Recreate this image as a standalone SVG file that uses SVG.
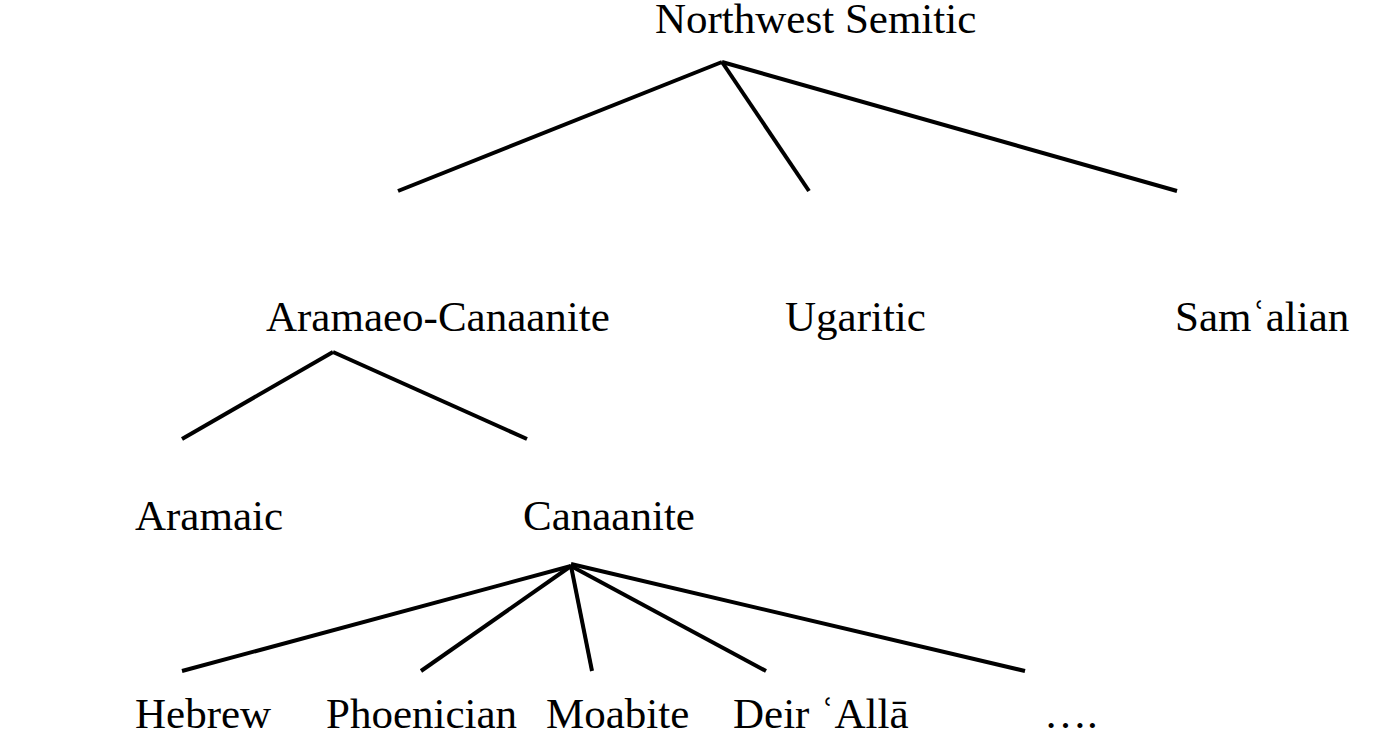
<svg xmlns="http://www.w3.org/2000/svg" width="1396" height="732" viewBox="0 0 1396 732">
<style>
text { font-family: "Liberation Serif", "Times New Roman", serif; font-size: 43px; fill: #000; }
.edge { stroke: #000; stroke-width: 4; stroke-linecap: butt; fill: none; }
</style>
<rect width="1396" height="732" fill="#fff"/>
<g id="connectors">
<line class="edge" x1="722" y1="62" x2="398" y2="191"/>
<line class="edge" x1="722" y1="62" x2="809" y2="191"/>
<line class="edge" x1="722" y1="62" x2="1177" y2="191"/>
<line class="edge" x1="333" y1="352" x2="182" y2="439"/>
<line class="edge" x1="333" y1="352" x2="527" y2="439"/>
<line class="edge" x1="571" y1="566" x2="182" y2="671"/>
<line class="edge" x1="571" y1="566" x2="421" y2="671"/>
<line class="edge" x1="571" y1="566" x2="592" y2="671"/>
<line class="edge" x1="571" y1="566" x2="766" y2="671"/>
<line class="edge" x1="571" y1="564" x2="1025" y2="671"/>
</g>
<g id="n-northwest-semitic"><text x="655" y="33">Northwest Semitic</text></g>
<g id="n-aramaeo-canaanite"><text x="266" y="331">Aramaeo-Canaanite</text></g>
<g id="n-ugaritic"><text x="785" y="331">Ugaritic</text></g>
<g id="n-samalian"><text x="1175" y="331">Samʿalian</text></g>
<g id="n-aramaic"><text x="135" y="530">Aramaic</text></g>
<g id="n-canaanite"><text x="523" y="530">Canaanite</text></g>
<g id="n-hebrew"><text x="135" y="728">Hebrew</text></g>
<g id="n-phoenician"><text x="326" y="728">Phoenician</text></g>
<g id="n-moabite"><text x="546" y="728">Moabite</text></g>
<g id="n-deir-alla"><text x="733" y="728">Deir ʿAllā</text></g>
<g id="n-more"><text x="1044" y="728">….</text></g>
</svg>
